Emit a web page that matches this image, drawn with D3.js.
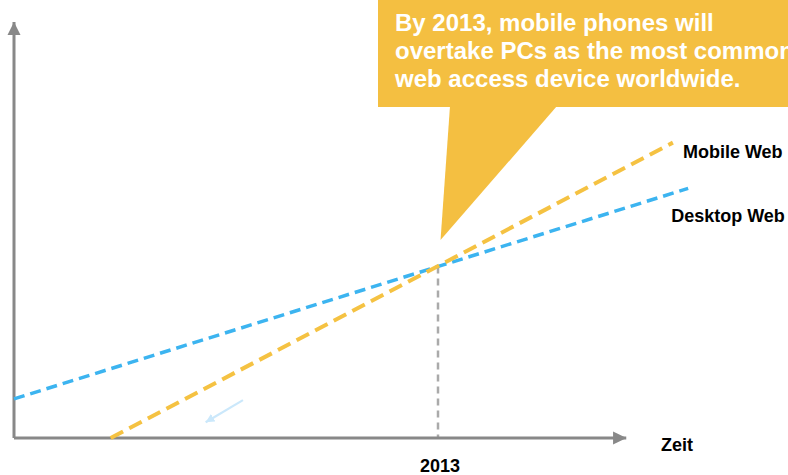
<!DOCTYPE html>
<html>
<head>
<meta charset="utf-8">
<script src="https://cdn.jsdelivr.net/npm/d3@7"></script>
<style>
  html, body { margin: 0; padding: 0; background: #fff; overflow: hidden; }
  svg { display: block; font-family: "Liberation Sans", Arial, sans-serif; }
</style>
</head>
<body>
<div id="chart"></div>
<script>
// conceptual trend lines (year, share index)
const desktopWeb = [
  { year: 2008, value: 9.4 },
  { year: 2015.95, value: 60 }
];
const mobileWeb = [
  { year: 2009.14, value: 0 },
  { year: 2015.77, value: 71 }
];
const crossYear = 2013;
const xLabel = "Zeit";
const calloutLines = [
  "By 2013, mobile phones will",
  "overtake PCs as the most common",
  "web access device worldwide."
];
const hintArrow = [
  { year: 2010.7, value: 9.1 },
  { year: 2010.26, value: 3.8 }
];

const W = 788, H = 475;
const svg = d3.select("#chart")
  .append("svg")
  .attr("width", W)
  .attr("height", H);

const x = d3.scaleLinear().domain([2008, 2016]).range([14, 692.4]);
const y = d3.scaleLinear().domain([0, 100]).range([438, 22]);

const axisColor = "#888888";
const orange = "#f5c242";
const blue = "#3cb4f0";

const defs = svg.append("defs");
defs.append("marker")
  .attr("id", "axisArrow")
  .attr("viewBox", "0 0 10 10")
  .attr("refX", 10).attr("refY", 5)
  .attr("markerWidth", 4.4).attr("markerHeight", 4.4)
  .attr("markerUnits", "strokeWidth")
  .attr("orient", "auto")
  .append("path")
    .attr("d", "M0,0 L10,5 L0,10 Z")
    .attr("fill", axisColor);
defs.append("marker")
  .attr("id", "hintHead")
  .attr("viewBox", "0 0 10 10")
  .attr("refX", 10).attr("refY", 5)
  .attr("markerWidth", 4).attr("markerHeight", 4)
  .attr("markerUnits", "strokeWidth")
  .attr("orient", "auto")
  .append("path")
    .attr("d", "M0,0 L10,5 L0,10 Z")
    .attr("fill", "#cbe8fb");

const line = d3.line()
  .x(d => x(d.year))
  .y(d => y(d.value));

const valueAt = (s, yr) => s[0].value + (s[1].value - s[0].value) * (yr - s[0].year) / (s[1].year - s[0].year);
const crossValue = valueAt(desktopWeb, crossYear);

// dashed guide at the crossing year
svg.append("line")
  .attr("x1", x(crossYear)).attr("x2", x(crossYear))
  .attr("y1", y(crossValue)).attr("y2", y(0))
  .attr("stroke", "#aaaaaa")
  .attr("stroke-width", 2.5)
  .attr("stroke-dasharray", "7,5");

// axes
svg.append("line")
  .attr("x1", x(2008)).attr("y1", y(0))
  .attr("x2", x(2008)).attr("y2", y(100))
  .attr("stroke", axisColor).attr("stroke-width", 3)
  .attr("marker-end", "url(#axisArrow)");
svg.append("line")
  .attr("x1", x(2008)).attr("y1", y(0))
  .attr("x2", x(2015.22)).attr("y2", y(0))
  .attr("stroke", axisColor).attr("stroke-width", 3)
  .attr("marker-end", "url(#axisArrow)");

// trend lines
svg.append("path")
  .datum(desktopWeb)
  .attr("fill", "none")
  .attr("stroke", blue)
  .attr("stroke-width", 3.5)
  .attr("stroke-dasharray", "11,6")
  .attr("d", line);

svg.append("path")
  .datum(mobileWeb)
  .attr("fill", "none")
  .attr("stroke", orange)
  .attr("stroke-width", 4)
  .attr("stroke-dasharray", "14,7")
  .attr("d", line);

// small hint arrow
svg.append("path")
  .datum(hintArrow)
  .attr("fill", "none")
  .attr("stroke", "#cbe8fb")
  .attr("stroke-width", 2.2)
  .attr("marker-end", "url(#hintHead)")
  .attr("d", line);

// labels
svg.append("text")
  .attr("x", x(crossYear) + 2).attr("y", 472)
  .attr("text-anchor", "middle")
  .attr("font-weight", "bold").attr("font-size", 18)
  .text(crossYear);

svg.append("text")
  .attr("x", 661).attr("y", 451)
  .attr("font-weight", "bold").attr("font-size", 18)
  .text(xLabel);

svg.append("text")
  .attr("x", x(mobileWeb[1].year) + 10).attr("y", 158)
  .attr("font-weight", "bold").attr("font-size", 18)
  .text("Mobile Web");

svg.append("text")
  .attr("x", x(desktopWeb[1].year) - 17).attr("y", 222)
  .attr("font-weight", "bold").attr("font-size", 18)
  .text("Desktop Web");

// callout
const callout = svg.append("g");
const tip = [x(2013.03), y(47.6)];
callout.append("rect")
  .attr("x", 378).attr("y", -2)
  .attr("width", W - 378 + 10).attr("height", 109)
  .attr("fill", "#f4bf41");
callout.append("path")
  .attr("d", `M450,106 L557,106 L${tip[0]},${tip[1]} Z`)
  .attr("fill", "#f4bf41");

callout.selectAll("text.note")
  .data(calloutLines)
  .enter()
  .append("text")
    .attr("class", "note")
    .attr("x", 395)
    .attr("y", (d, i) => 31 + i * 28)
    .attr("fill", "#ffffff")
    .attr("font-weight", "bold")
    .attr("font-size", 24)
    .text(d => d);
</script>
</body>
</html>
